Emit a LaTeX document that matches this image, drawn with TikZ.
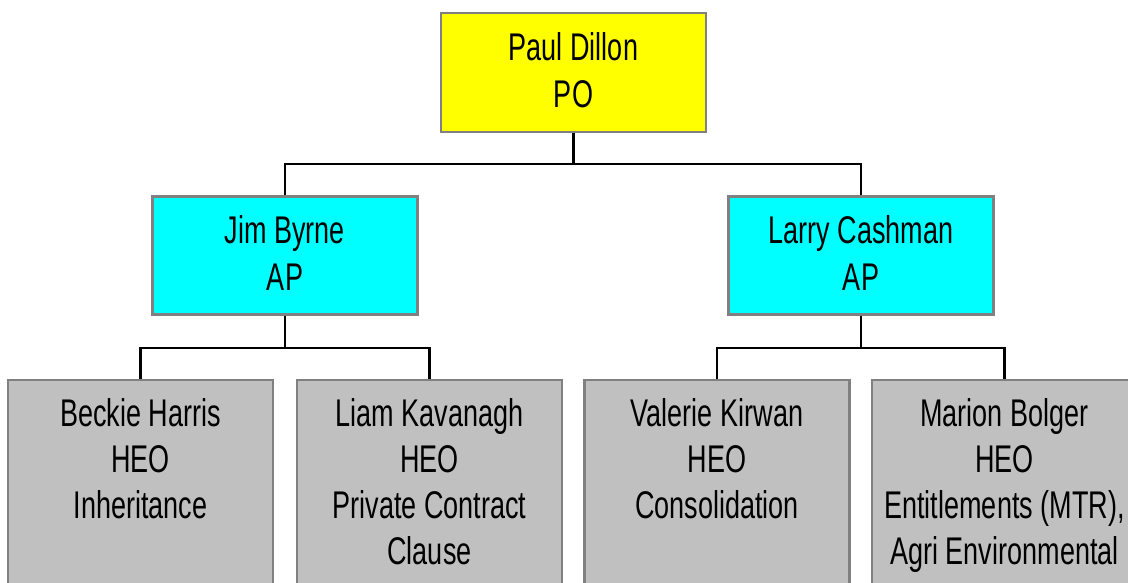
\documentclass[tikz,border=0pt]{standalone}
\usepackage{fontspec}
\setmainfont{Liberation Sans}[FakeStretch=0.70]
\definecolor{poyellow}{HTML}{FFFF00}
\definecolor{apcyan}{HTML}{00FFFF}
\definecolor{heogray}{HTML}{C0C0C0}
\definecolor{frame}{HTML}{808080}
\begin{document}
\begin{tikzpicture}[x=1pt,y=-1pt,
  orgbox/.style={draw=frame, line width=2.2pt, inner sep=0pt,
    minimum width=265pt, align=center,
    font=\fontsize{38.6}{46.2}\selectfont},
  topbox/.style={orgbox, fill=poyellow, minimum height=119pt, text depth=5pt},
  apbox/.style={orgbox, fill=apcyan, minimum height=118pt, text depth=5pt},
  heobox/.style={orgbox, fill=heogray, minimum height=260pt, anchor=north},
  heotext/.style={inner sep=0pt, align=center, anchor=north,
    font=\fontsize{38.6}{46.2}\selectfont},
  conn/.style={draw=black, line width=2.4pt}]
\useasboundingbox (0,0) rectangle (1128,583);
\clip (0,0) rectangle (1128,583);

% principal officer
\node[topbox] (pd) at (573.5,72.5) {Paul Dillon\\PO};

% assistant principals
\node[apbox] (jb) at (285,255.5) {Jim Byrne\\AP};
\node[apbox] (lc) at (861,255.5) {Larry Cashman\\AP};

% higher executive officers
\node[heobox] (bh) at (140.5,379) {};
\node[heobox] (lk) at (429.5,379) {};
\node[heobox] (vk) at (717,379) {};
\node[heobox] (mb) at (1004.5,379) {};

\node[heotext] (bht) at (140.5,398) {Beckie Harris\\HEO\\Inheritance};
\node[heotext] (lkt) at (429.5,398) {Liam Kavanagh\\HEO\\Private Contract\\Clause};
\node[heotext] (vkt) at (717,398) {Valerie Kirwan\\HEO\\Consolidation};
\node[heotext] (mbt) at (1004.5,398) {Marion Bolger\\HEO\\Entitlements (MTR),\\Agri Environmental};

% reporting lines
\draw[conn] (pd.south) -- ++(0,31) -| (jb.north);
\draw[conn] (pd.south) -- ++(0,31) -| (lc.north);
\draw[conn] (jb.south) -- ++(0,32.5) -| (bh.north);
\draw[conn] (jb.south) -- ++(0,32.5) -| (lk.north);
\draw[conn] (lc.south) -- ++(0,32.5) -| (vk.north);
\draw[conn] (lc.south) -- ++(0,32.5) -| (mb.north);
\end{tikzpicture}
\end{document}
